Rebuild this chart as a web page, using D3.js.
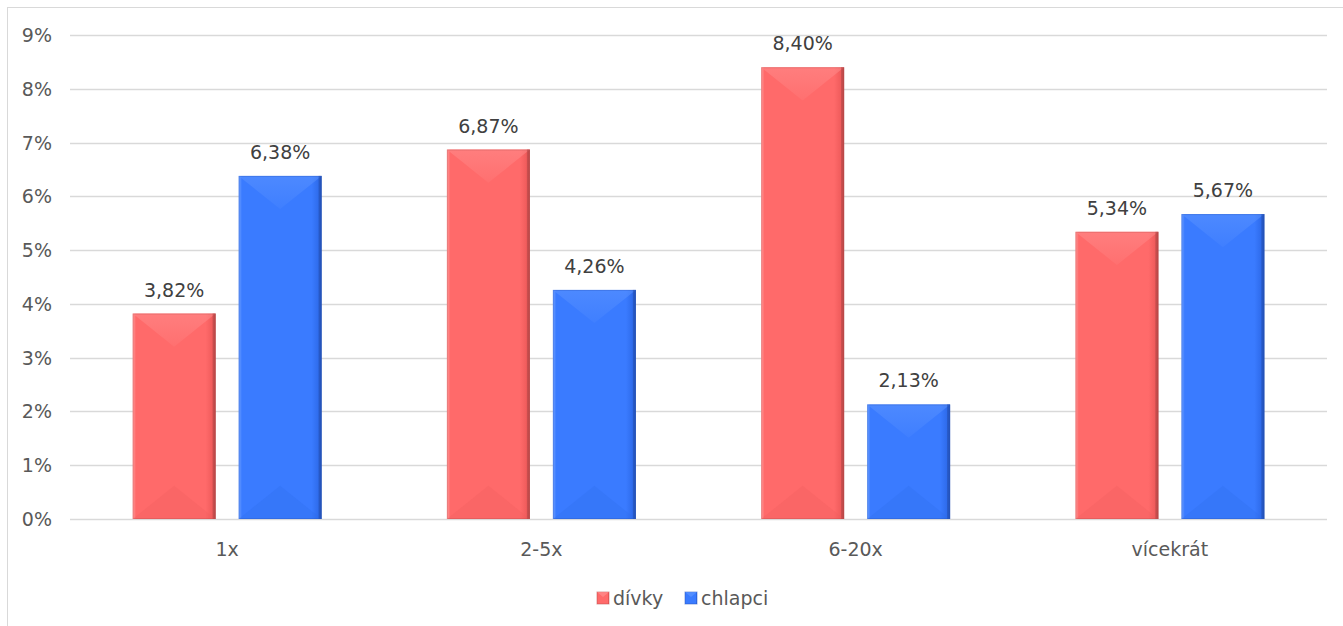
<!DOCTYPE html>
<html><head><meta charset="utf-8">
<script src="https://cdn.jsdelivr.net/npm/d3@7"></script>
<style>
html,body{margin:0;padding:0;background:#fff;}
svg{display:block;font-family:"DejaVu Sans",sans-serif;}
</style></head>
<body>
<svg id="chart" width="1343" height="626"></svg>
<script>
const categories = ["1x", "2-5x", "6-20x", "vícekrát"];
const seriesNames = ["dívky", "chlapci"];
const divky = [3.82, 6.87, 8.40, 5.34];
const chlapci = [6.38, 4.26, 2.13, 5.67];
const yTicks = [0, 1, 2, 3, 4, 5, 6, 7, 8, 9];

const seriesValues = [divky, chlapci];
const palette = {
  "dívky":   {base:"#ff6a6a", light:"#ff8f8f", dark:"#f05c5c", edge:"#b84848", leftEdge:"#ff9a9a"},
  "chlapci": {base:"#3a7bff", light:"#5d95ff", dark:"#2f6cec", edge:"#2452b8", leftEdge:"#6fa0ff"}
};

const svg = d3.select("#chart");
const plot = {left:70, right:1327, top:35, bottom:519};

svg.append("rect").attr("x",7.5).attr("y",7.5).attr("width",1400).attr("height",700)
  .attr("fill","#fff").attr("stroke","#d9d9d9").attr("stroke-width",1);

const x = d3.scaleBand().domain(categories).range([plot.left, plot.right]).paddingInner(0).paddingOuter(0);
const xs = d3.scaleBand().domain(seriesNames).range([0, x.bandwidth()]).paddingInner(0.217).paddingOuter(0.591);
const y = d3.scaleLinear().domain([0, 9]).range([plot.bottom, plot.top]);

svg.append("g").selectAll("line").data(yTicks).join("line")
  .attr("x1", plot.left).attr("x2", plot.right)
  .attr("y1", d => Math.round(y(d)) + 0.5).attr("y2", d => Math.round(y(d)) + 0.5)
  .attr("stroke", "#d9d9d9").attr("stroke-width", 1.3);

svg.append("g").selectAll("text").data(yTicks).join("text")
  .attr("x", 52).attr("y", d => y(d) + 7)
  .attr("text-anchor", "end").attr("fill", "#595959").attr("font-size", 19)
  .text(d => d + "%");

const defs = svg.append("defs");
seriesNames.forEach((s, i) => {
  const p = palette[s];
  const g = defs.append("linearGradient").attr("id", "grad" + i).attr("x1", "0").attr("x2", "1").attr("y1", "0").attr("y2", "0");
  g.append("stop").attr("offset", "0").attr("stop-color", p.leftEdge);
  g.append("stop").attr("offset", "0.04").attr("stop-color", p.base);
  g.append("stop").attr("offset", "0.88").attr("stop-color", p.base);
  g.append("stop").attr("offset", "0.96").attr("stop-color", p.dark);
  g.append("stop").attr("offset", "1").attr("stop-color", p.edge);
  const tg = defs.append("linearGradient").attr("id", "top" + i).attr("x1", "0").attr("x2", "0").attr("y1", "0").attr("y2", "1");
  tg.append("stop").attr("offset", "0").attr("stop-color", p.light).attr("stop-opacity", 0.9);
  tg.append("stop").attr("offset", "1").attr("stop-color", p.light).attr("stop-opacity", 0.25);
});

const data = [];
categories.forEach((c, ci) => seriesNames.forEach((s, si) => data.push({c, s, si, v: seriesValues[si][ci]})));

const bars = svg.append("g").selectAll("g").data(data).join("g");
bars.each(function(d) {
  const g = d3.select(this);
  const p = palette[d.s];
  const x0 = x(d.c) + xs(d.s), w = xs.bandwidth();
  const y0 = y(d.v), y1 = y(0), h = y1 - y0;
  const depth = Math.min(w * 0.4, h / 2);
  g.append("rect").attr("x", x0).attr("y", y0).attr("width", w).attr("height", h)
    .attr("fill", "url(#grad" + d.si + ")");
  g.append("path").attr("d", `M${x0},${y0}L${x0 + w},${y0}L${x0 + w / 2},${y0 + depth}Z`)
    .attr("fill", "url(#top" + d.si + ")").attr("opacity", 0.6);
  g.append("path").attr("d", `M${x0},${y1}L${x0 + w},${y1}L${x0 + w / 2},${y1 - depth}Z`)
    .attr("fill", p.dark).attr("opacity", 0.3);
  g.append("rect").attr("x", x0 + w - 3).attr("y", y0).attr("width", 3).attr("height", h)
    .attr("fill", p.edge).attr("opacity", 0.6);
  g.append("rect").attr("x", x0 + 0.5).attr("y", y0 + 0.5).attr("width", w - 1).attr("height", h - 1)
    .attr("fill", "none").attr("stroke", p.edge).attr("stroke-opacity", 0.3);
});

svg.append("g").selectAll("text").data(data).join("text")
  .attr("x", d => x(d.c) + xs(d.s) + xs.bandwidth() / 2)
  .attr("y", d => y(d.v) - 17)
  .attr("text-anchor", "middle").attr("fill", "#404040").attr("font-size", 19)
  .text(d => d.v.toFixed(2).replace(".", ",") + "%");

svg.append("g").selectAll("text").data(categories).join("text")
  .attr("x", d => x(d) + x.bandwidth() / 2).attr("y", 556)
  .attr("text-anchor", "middle").attr("fill", "#595959").attr("font-size", 19)
  .text(d => d);

const legendX = [597, 685];
const lg = svg.append("g").selectAll("g").data(seriesNames).join("g")
  .attr("transform", (d, i) => `translate(${legendX[i]},592)`);
lg.append("rect").attr("width", 12).attr("height", 12).attr("fill", (d, i) => `url(#grad${i})`)
  .attr("stroke", d => palette[d].edge).attr("stroke-opacity", 0.5);
lg.append("path").attr("d", "M0,0L12,0L6,5Z").attr("fill", d => palette[d].light).attr("opacity", 0.7);
lg.append("text").attr("x", 16).attr("y", 13).attr("fill", "#595959").attr("font-size", 19).text(d => d);
</script>
</body></html>
